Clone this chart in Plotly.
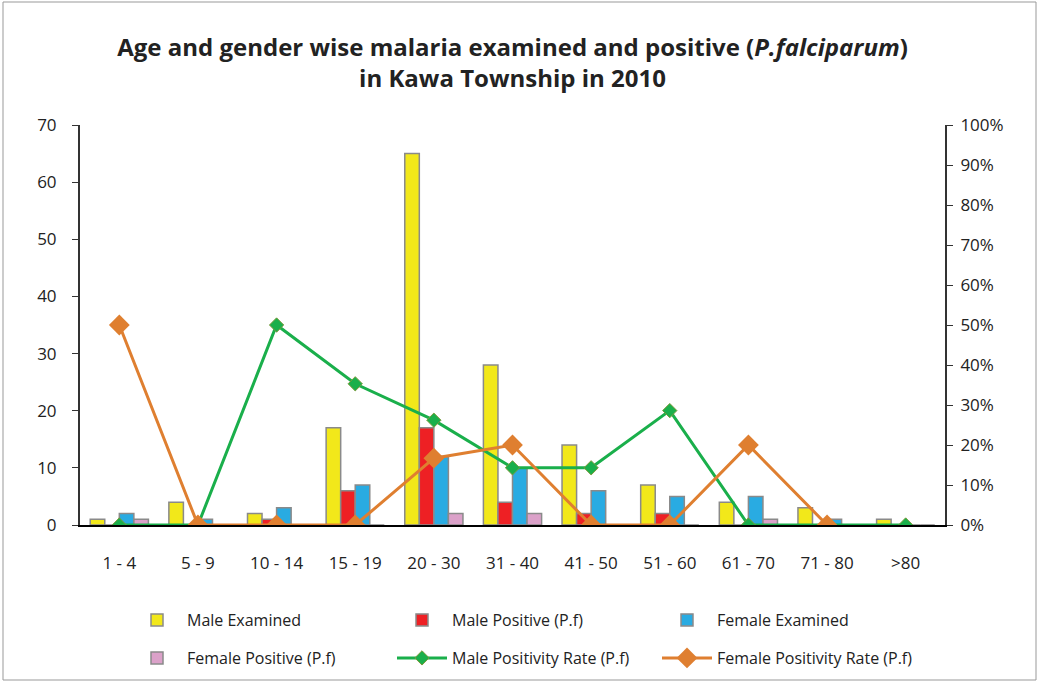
import plotly.graph_objects as go

categories = ["1 - 4", "5 - 9", "10 - 14", "15 - 19", "20 - 30", "31 - 40",
              "41 - 50", "51 - 60", "61 - 70", "71 - 80", ">80"]
male_examined = [1, 4, 2, 17, 65, 28, 14, 7, 4, 3, 1]
male_positive = [0, 0, 1, 6, 17, 4, 2, 2, 0, 0, 0]
female_examined = [2, 1, 3, 7, 12, 10, 6, 5, 5, 1, 0]
female_positive = [1, 0, 0, 0, 2, 2, 0, 0, 1, 0, 0]
male_rate = [0, 0, 0.50, 0.353, 0.262, 0.143, 0.143, 0.286, 0, 0, 0]
female_rate = [0.50, 0, 0, 0, 0.167, 0.20, 0, 0, 0.20, 0, None]

W, H = 1039, 683
L, R, T, B = 80, 94, 125, 158
pw, ph = W - L - R, H - T - B

FONT = "'Open Sans', Lato, sans-serif"
outline = dict(color="#8a8a8a", width=1.5)

fig = go.Figure()
fig.add_trace(go.Bar(x=categories, y=male_examined, name="Male Examined",
                     marker=dict(color="#f2e81a", line=outline), legend="legend"))
fig.add_trace(go.Bar(x=categories, y=male_positive, name="Male Positive (P.f)",
                     marker=dict(color="#ee2024", line=outline), legend="legend"))
fig.add_trace(go.Bar(x=categories, y=female_examined, name="Female Examined",
                     marker=dict(color="#29abe2", line=outline), legend="legend"))
fig.add_trace(go.Bar(x=categories, y=female_positive, name="Female Positive (P.f)",
                     marker=dict(color="#dba1c9", line=outline), legend="legend2"))
fig.add_trace(go.Scatter(x=categories, y=male_rate, name="Male Positivity Rate (P.f)",
                         yaxis="y2", mode="lines+markers", legend="legend2",
                         line=dict(color="#1aaf4b", width=3),
                         marker=dict(symbol="diamond", size=11, color="#1aaf4b",
                                     line=dict(color="#7a9a3a", width=1))))
fig.add_trace(go.Scatter(x=categories, y=female_rate, name="Female Positivity Rate (P.f)",
                         yaxis="y2", mode="lines+markers", legend="legend2",
                         line=dict(color="#df7f30", width=3),
                         marker=dict(symbol="diamond", size=16, color="#df7f30")))

legend_common = dict(orientation="h", xanchor="left", yanchor="middle",
                     entrywidth=200, entrywidthmode="pixels",
                     font=dict(family=FONT, size=16, color="#222"),
                     itemwidth=50, bgcolor="rgba(0,0,0,0)")

fig.update_layout(
    width=W, height=H,
    margin=dict(l=L, r=R, t=T, b=B, autoexpand=False),
    paper_bgcolor="white", plot_bgcolor="white",
    font=dict(family=FONT, size=17, color="#222"),
    title=dict(text="<b>Age and gender wise malaria examined and positive (<i>P.falciparum</i>)<br>in Kawa Township in 2010</b>",
               x=0.5, xanchor="center", xref="paper", y=1 - 56 / H, yanchor="middle",
               font=dict(family=FONT, size=24, color="#222")),
    barmode="group", bargap=0.26, bargroupgap=0.0,
    xaxis=dict(range=[-0.5, len(categories) - 0.5], showline=True, linecolor="black",
               linewidth=2, ticks="", tickfont=dict(size=17), showgrid=False,
               automargin=False, ticklabelstandoff=22),
    yaxis=dict(range=[0, 70], dtick=10, showline=True, linecolor="#333", linewidth=2,
               ticks="outside", ticklen=6, tickcolor="#333", showgrid=False,
               zeroline=False, tickfont=dict(size=17), ticklabelstandoff=12,
               automargin=False),
    yaxis2=dict(range=[0, 1], dtick=0.1, tickformat=".0%", overlaying="y", side="right",
                showline=True, linecolor="#333", linewidth=2, ticks="outside", ticklen=6,
                tickcolor="#333", showgrid=False, zeroline=False, tickfont=dict(size=17),
                ticklabelstandoff=4, automargin=False),
    legend=dict(x=(127 - L) / pw, y=(T + ph - 620) / ph, **legend_common),
    legend2=dict(x=(127 - L) / pw, y=(T + ph - 658) / ph, **legend_common),
    shapes=[dict(type="rect", xref="paper", yref="paper",
                 x0=(3 - L) / pw, x1=(W - 3 - L) / pw,
                 y0=-(H - 3 - T - ph) / ph, y1=1 + (T - 2) / ph,
                 line=dict(color="#999", width=1))],
)

fig.write_html("out.html", config={"displayModeBar": False},
               post_script="document.body.style.margin='0';")
